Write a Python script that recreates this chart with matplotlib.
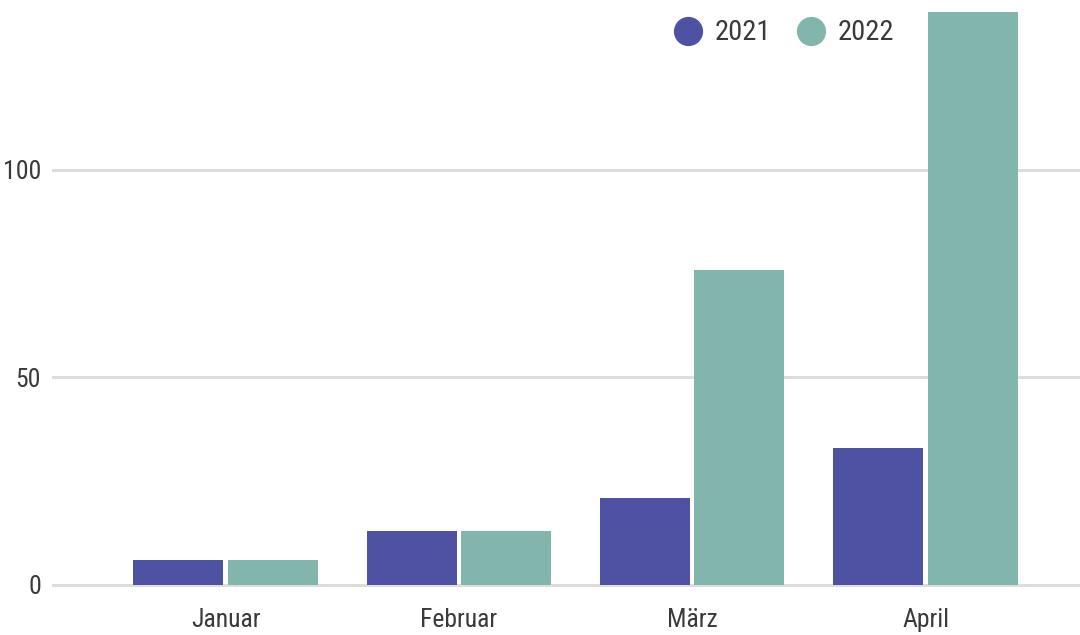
import matplotlib.pyplot as plt
from matplotlib import font_manager
from matplotlib.lines import Line2D
import numpy as np

months = ["Januar", "Februar", "März", "April"]
values_2021 = [6, 13, 21, 33]
values_2022 = [6, 13, 76, 138]
years = ["2021", "2022"]

blue = "#4f51a3"
teal = "#82b6ad"
grid_color = "#dddddd"
text_color = "#3a3a3a"

# pick a narrow face if one is around, else condensed DejaVu
installed = {f.name for f in font_manager.fontManager.ttflist}
narrow = [n for n in ("Roboto Condensed", "Liberation Sans Narrow", "Open Sans Condensed")
          if n in installed]
if narrow:
    plt.rcParams['font.family'] = [narrow[0], 'DejaVu Sans']
else:
    plt.rcParams['font.family'] = ['DejaVu Sans']
    plt.rcParams['font.stretch'] = 'condensed'

fig = plt.figure(figsize=(10.8, 6.35), dpi=100)
# axes bottom a bit below zero so the zero gridline is not clipped
y0_px = 585
px_per_unit = 4.15
bottom_units = 0.5
ax = fig.add_axes([52 / 1080, (635 - y0_px - bottom_units * px_per_unit) / 635,
                   1 - 52 / 1080, (y0_px + bottom_units * px_per_unit) / 635])

x = np.arange(len(months))
w = 0.386
gap = 0.009
ax.bar(x - w / 2 - gap, values_2021, width=w, color=blue, zorder=3)
ax.bar(x + w / 2 + gap, values_2022, width=w, color=teal, zorder=3)

ax.set_xlim(-0.744, 3.662)
ax.set_ylim(-bottom_units, y0_px / px_per_unit)
ax.set_yticks([0, 50, 100])
ax.set_xticks(x)
ax.set_xticklabels(months)
ax.yaxis.grid(True, color=grid_color, linewidth=2.2)
ax.set_axisbelow(True)
for s in ax.spines.values():
    s.set_visible(False)
ax.tick_params(axis='both', length=0, labelsize=18.5, colors=text_color)
ax.tick_params(axis='x', pad=15)
ax.tick_params(axis='y', pad=8)

handles = [Line2D([], [], marker='o', linestyle='', markersize=20, color=c)
           for c in (blue, teal)]
fig.legend(handles, years, loc='center', bbox_to_anchor=(784 / 1080, 1 - 33 / 635),
           ncol=2, frameon=False, fontsize=20.5, handlelength=1.0, handletextpad=0.45,
           columnspacing=0.9, labelcolor=text_color)

fig.savefig("out.png", dpi=100)
